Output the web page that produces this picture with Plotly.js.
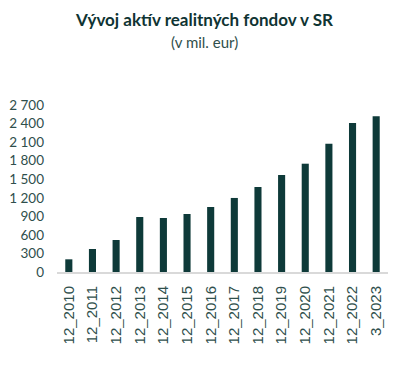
<!DOCTYPE html>
<html>
<head>
<meta charset="utf-8">
<script src="https://cdn.plot.ly/plotly-3.0.1.min.js"></script>
<style>
  html, body { margin: 0; padding: 0; background: #fff; }
  #chart { width: 411px; height: 367px; }
</style>
</head>
<body>
<div id="chart"></div>
<script>
const categories = ["12_2010","12_2011","12_2012","12_2013","12_2014","12_2015","12_2016","12_2017","12_2018","12_2019","12_2020","12_2021","12_2022","3_2023"];
const assets = [205, 372, 517, 889, 873, 938, 1051, 1197, 1374, 1568, 1751, 2075, 2410, 2520];
const yTicks = [0, 300, 600, 900, 1200, 1500, 1800, 2100, 2400, 2700];
const titleText = "Vývoj aktív realitných fondov v SR";
const subtitleText = "(v mil. eur)";

const textColor = "#2f4f4c";
const barColor = "#0e3a39";

const data = [{
  type: "bar",
  x: categories,
  y: assets,
  marker: { color: barColor, line: { width: 0 } },
  hoverinfo: "x+y"
}];

const layout = {
  width: 411,
  height: 367,
  margin: { l: 57, r: 23, t: 105, b: 95 },
  paper_bgcolor: "#ffffff",
  plot_bgcolor: "#ffffff",
  separators: ". ",
  bargap: 0.7,
  showlegend: false,
  font: { family: "Lato, 'Open Sans', sans-serif", color: textColor, size: 13 },
  annotations: [
    {
      text: "<b>" + titleText + "</b>",
      xref: "paper", yref: "paper",
      x: 0.445, y: 1.509, xanchor: "center", yanchor: "middle",
      showarrow: false,
      font: { family: "Lato, sans-serif", size: 17, color: "#0f3433" }
    },
    {
      text: subtitleText,
      xref: "paper", yref: "paper",
      x: 0.445, y: 1.38, xanchor: "center", yanchor: "middle",
      showarrow: false,
      font: { family: "Lato, sans-serif", size: 15, color: textColor }
    }
  ],
  xaxis: {
    type: "category",
    tickangle: -90,
    tickfont: { family: "'Liberation Sans', Arial, sans-serif", size: 15, color: textColor },
    showgrid: false,
    showline: true,
    linecolor: "#d9d9d9",
    linewidth: 2,
    ticks: "",
    zeroline: false,
    ticklabelstandoff: 6
  },
  yaxis: {
    range: [0, 2700],
    tickvals: yTicks,
    tickformat: ",d",
    tickfont: { family: "Lato, sans-serif", size: 13.5, color: textColor },
    showgrid: false,
    showline: false,
    zeroline: false,
    ticks: "",
    ticklabelstandoff: 12
  }
};

Plotly.newPlot("chart", data, layout, { displayModeBar: false, staticPlot: true });
</script>
</body>
</html>
